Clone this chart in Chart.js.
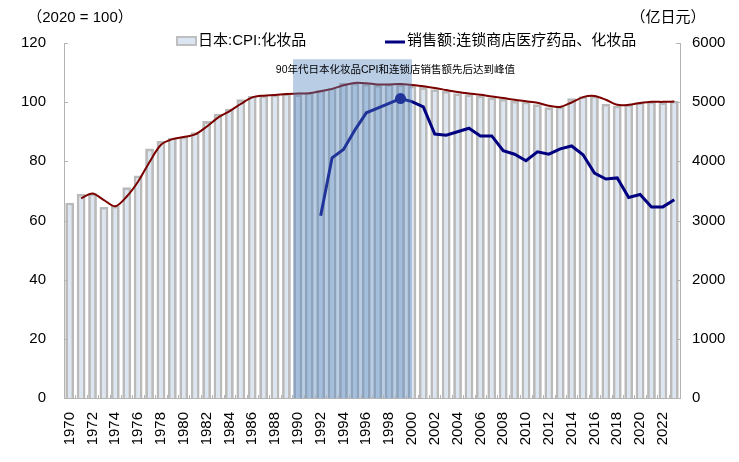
<!DOCTYPE html>
<html lang="zh-CN">
<head>
<meta charset="utf-8">
<title>日本化妆品CPI与连锁店销售额</title>
<script src="https://cdn.jsdelivr.net/npm/chart.js@4/dist/chart.umd.min.js"></script>
<style>
    html, body { margin: 0; padding: 0; background: #fff; }
    #wrap { width: 739px; height: 462px; }
</style>
</head>
<body>
<div id="wrap"><canvas id="cpiChart" width="739" height="462"></canvas></div>
<script>
"use strict";

// 年份（x轴）
const years = [
    "1970","1971","1972","1973","1974","1975","1976","1977","1978","1979",
    "1980","1981","1982","1983","1984","1985","1986","1987","1988","1989",
    "1990","1991","1992","1993","1994","1995","1996","1997","1998","1999",
    "2000","2001","2002","2003","2004","2005","2006","2007","2008","2009",
    "2010","2011","2012","2013","2014","2015","2016","2017","2018","2019",
    "2020","2021","2022","2023"
];
// 日本:CPI:化妆品（2020 = 100）
const cpiValues = [
    66.0, 69.0, 69.2, 64.6, 64.9, 71.2, 75.2, 84.3, 86.9, 88.0,
    88.3, 89.8, 93.6, 96.0, 97.8, 101.0, 102.1, 102.2, 102.5, 103.0,
    102.7, 103.3, 104.1, 104.9, 106.5, 106.5, 106.2, 105.8, 106.2, 106.0,
    105.6, 105.1, 104.4, 103.8, 103.0, 102.7, 102.2, 101.6, 101.1, 100.4,
    100.2, 99.3, 98.3, 98.5, 101.3, 102.0, 102.1, 99.4, 98.8, 99.3,
    100.0, 100.2, 100.0, 100.4
];
// CPI 趋势线（两期移动平均，读图值）
const cpiTrend = [
    null, 67.5, 69.1, 66.9, 64.8, 68.1, 73.2, 79.8, 85.6, 87.5,
    88.2, 89.1, 91.7, 94.8, 96.9, 99.4, 101.6, 102.2, 102.4, 102.8,
    102.9, 103.0, 103.7, 104.5, 105.7, 106.5, 106.4, 106.0, 106.0, 106.1,
    105.8, 105.4, 104.8, 104.1, 103.4, 102.9, 102.5, 101.9, 101.4, 100.8,
    100.3, 99.8, 98.8, 98.4, 99.9, 101.7, 102.1, 100.8, 99.1, 99.1,
    99.7, 100.1, 100.1, 100.2
];
// 销售额:连锁商店医疗药品、化妆品（亿日元）
const salesValues = [
    null, null, null, null, null, null, null, null, null, null,
    null, null, null, null, null, null, null, null, null, null,
    null, null, 3080, 4060, 4200, 4530, 4820, 4900, 4980, 5060,
    5010, 4920, 4460, 4440, 4500, 4560, 4430, 4430, 4180, 4120,
    4010, 4160, 4120, 4210, 4260, 4110, 3800, 3700, 3720, 3390,
    3440, 3230, 3230, 3350
];
// 左轴 / 右轴刻度
const leftTicks = [0, 20, 40, 60, 80, 100, 120];
const rightTicks = [0, 1000, 2000, 3000, 4000, 5000, 6000];

const cpiLabel = "日本:CPI:化妆品";
const salesLabel = "销售额:连锁商店医疗药品、化妆品";
const noteText = "90年代日本化妆品CPI和连锁店销售额先后达到峰值";
const peakYear = "1999";
const bandFrom = "1990";
const bandTo = "2000";

const FONT = '"Liberation Sans", "Noto Sans CJK SC", sans-serif';
const AXIS_COLOR = "#b4b4b4";

Chart.defaults.font.family = FONT;
Chart.defaults.color = "#000";

// 90年代阴影区域 + 注释文字
const bandPlugin = {
    id: "band",
    afterDatasetsDraw(chart) {
        const { ctx, chartArea, scales } = chart;
        const x = scales.x;
        const step = x.getPixelForValue(1) - x.getPixelForValue(0);
        const x0 = x.getPixelForValue(years.indexOf(bandFrom)) - step * 0.42;
        const x1 = x.getPixelForValue(years.indexOf(bandTo));
        const y0 = scales.y.getPixelForValue(114.5);
        ctx.save();
        ctx.fillStyle = "rgba(79,129,189,0.4)";
        ctx.fillRect(x0, y0, x1 - x0, chartArea.bottom - y0);
        ctx.fillStyle = "#000";
        ctx.font = "10.5px " + FONT;
        ctx.textAlign = "center";
        ctx.textBaseline = "middle";
        ctx.fillText(noteText, x.getPixelForValue(years.indexOf(peakYear) - 0.45), y0 + 11);
        ctx.restore();
    }
};

// 图例、单位、向内刻度
const decoPlugin = {
    id: "deco",
    afterDraw(chart) {
        const { ctx, chartArea, scales } = chart;
        ctx.save();
        ctx.font = "15px " + FONT;
        ctx.textBaseline = "middle";
        ctx.fillStyle = "#000";
        ctx.textAlign = "center";
        ctx.fillText("（2020 = 100）", 80, 18);
        ctx.fillText("（亿日元）", 668, 18);

        // 图例
        ctx.textAlign = "left";
        ctx.fillStyle = "#dce6f2";
        ctx.fillRect(177, 37, 19, 8);
        ctx.strokeStyle = "#bfbfbf";
        ctx.lineWidth = 2;
        ctx.strokeRect(177, 37, 19, 8);
        ctx.fillStyle = "#000";
        ctx.fillText(cpiLabel, 198, 41);
        ctx.strokeStyle = "#000080";
        ctx.lineWidth = 3;
        ctx.beginPath();
        ctx.moveTo(385, 42);
        ctx.lineTo(405, 42);
        ctx.stroke();
        ctx.fillText(salesLabel, 407, 41);

        // 刻度线
        ctx.strokeStyle = AXIS_COLOR;
        ctx.lineWidth = 1;
        ctx.beginPath();
        leftTicks.forEach(v => {
            const y = Math.round(scales.y.getPixelForValue(v)) + 0.5;
            ctx.moveTo(chartArea.left, y);
            ctx.lineTo(chartArea.left + 4, y);
        });
        rightTicks.forEach(v => {
            const y = Math.round(scales.y1.getPixelForValue(v)) + 0.5;
            ctx.moveTo(chartArea.right, y);
            ctx.lineTo(chartArea.right - 4, y);
        });
        const step = scales.x.getPixelForValue(1) - scales.x.getPixelForValue(0);
        for (let i = 0; i <= years.length; i++) {
            const px = Math.round(scales.x.getPixelForValue(i) - step / 2) + 0.5;
            ctx.moveTo(px, chartArea.bottom);
            ctx.lineTo(px, chartArea.bottom - 3);
        }
        ctx.stroke();
        ctx.restore();
    }
};

const config = {
    type: "bar",
    data: {
        labels: years,
        datasets: [
            {
                type: "line",
                label: salesLabel,
                data: salesValues,
                yAxisID: "y1",
                borderColor: "#000080",
                backgroundColor: "#000080",
                borderWidth: 3,
                lineTension: 0,
                pointRadius: c => (years[c.index] === peakYear ? 5.5 : 0),
                pointBorderWidth: 0,
                order: 1
            },
            {
                type: "line",
                label: "CPI趋势",
                data: cpiTrend,
                yAxisID: "y",
                borderColor: "#7a0000",
                borderWidth: 2,
                lineTension: 0.3,
                pointRadius: 0,
                order: 2
            },
            {
                type: "bar",
                label: cpiLabel,
                data: cpiValues,
                yAxisID: "y",
                backgroundColor: "#dce6f2",
                borderColor: "#bababa",
                borderWidth: 2.8,
                borderSkipped: "start",
                categoryPercentage: 1,
                barPercentage: 0.77,
                order: 3
            }
        ]
    },
    options: {
        responsive: false,
        animation: false,
        layout: { padding: { top: 43, left: 0, right: 0, bottom: 0 } },
        plugins: {
            legend: { display: false },
            tooltip: { enabled: false }
        },
        scales: {
            x: {
                grid: { display: false },
                border: { display: true, color: AXIS_COLOR },
                ticks: {
                    autoSkip: false,
                    maxRotation: 90,
                    minRotation: 90,
                    padding: 6,
                    font: { size: 15 },
                    callback: function(value, index) {
                        return index % 2 === 0 ? this.getLabelForValue(value) : "";
                    }
                },
                afterFit: s => { s.height = 64; }
            },
            y: {
                position: "left",
                min: 0,
                max: 120,
                grid: { display: false, drawTicks: false },
                border: { display: true, color: AXIS_COLOR },
                ticks: { stepSize: 20, padding: 18, font: { size: 15 } },
                afterFit: s => { s.width = 64; }
            },
            y1: {
                position: "right",
                min: 0,
                max: 6000,
                grid: { display: false, drawTicks: false },
                border: { display: true, color: AXIS_COLOR },
                ticks: {
                    stepSize: 1000,
                    padding: 12,
                    font: { size: 15 },
                    callback: value => String(value)
                },
                afterFit: s => { s.width = 59; }
            }
        }
    },
    plugins: [bandPlugin, decoPlugin]
};

new Chart(document.getElementById("cpiChart"), config);
</script>
</body>
</html>
